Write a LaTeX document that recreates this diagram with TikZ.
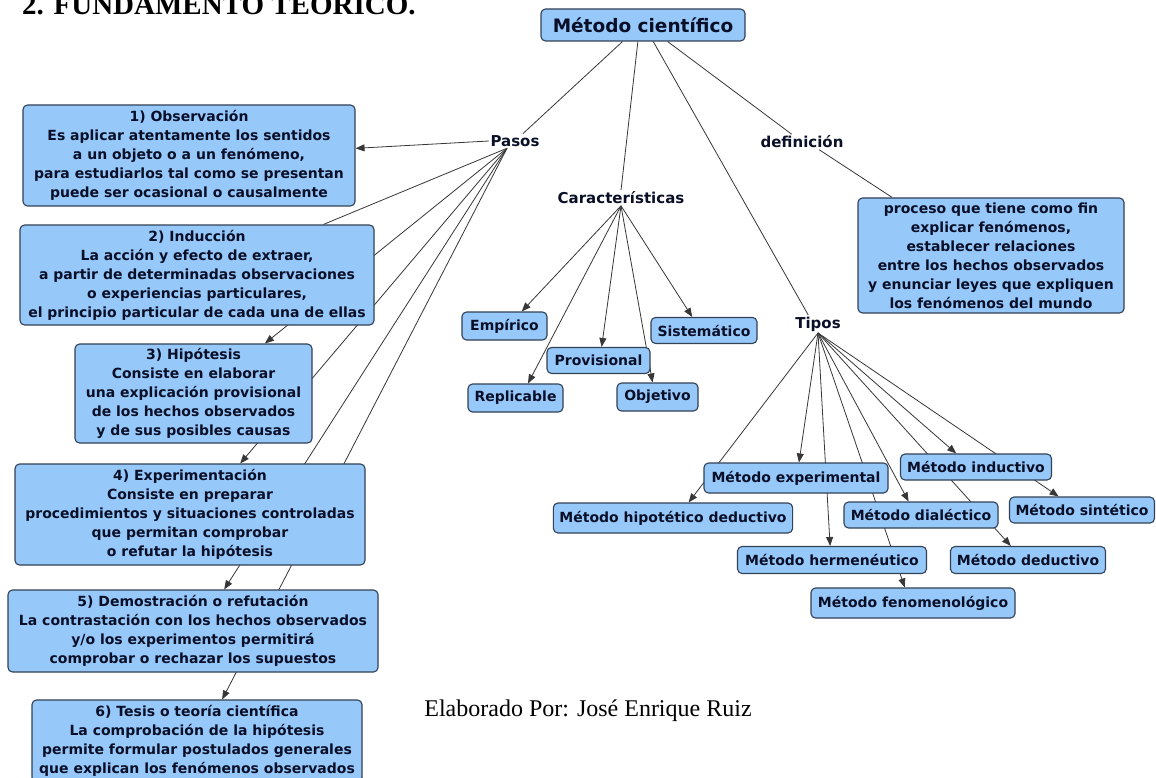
\documentclass[tikz,border=0pt]{standalone}
\usepackage{fontspec}
\setmainfont{DejaVu Sans}
\newfontfamily\serifface{Liberation Serif}
\usetikzlibrary{arrows.meta,calc}
\pgfdeclarelayer{background}
\pgfsetlayers{background,main}
\definecolor{boxfill}{RGB}{150,200,250}
\definecolor{boxline}{RGB}{50,65,85}
\definecolor{inkblue}{RGB}{10,15,40}
\definecolor{linkgray}{RGB}{55,55,55}
\tikzset{
  concept/.style={draw=boxline, fill=boxfill, rounded corners=4.5pt, line width=1.1pt,
    align=center, font=\bfseries\fontsize{14}{19}\selectfont, text=inkblue,
    inner xsep=6pt, inner ysep=3pt},
  linkword/.style={font=\bfseries\fontsize{15}{18}\selectfont, text=inkblue, inner sep=1.5pt},
  link/.style={draw=linkgray, line width=0.8pt},
  arrowlink/.style={link, -{Triangle[length=9pt,width=7pt]}},
}
\begin{document}
\begin{tikzpicture}[x=1pt, y=-1pt]
\clip (0,0) rectangle (1156,778);

% section heading, partly above the page edge
\node[font=\serifface\bfseries\fontsize{29}{34}\selectfont, anchor=base west, inner sep=0] (heading) at (22,15) {2. FUNDAMENTO TEÓRICO.};

% root concept
\node[concept, minimum width=204pt, minimum height=32pt, font=\bfseries\fontsize{18.5}{22}\selectfont] (title) at (643,25) {Método científico};

% linking words
\node[linkword] (pasos) at (515,141) {Pasos};
\node[linkword] (carac) at (621,198) {Características};
\node[linkword] (defn)  at (802,142) {definición};
\node[linkword] (tipos) at (818,324) {Tipos};

% steps of the method
\node[concept, minimum width=332pt, minimum height=101pt] (b1) at (189,155.5)
  {1) Observación\\Es aplicar atentamente los sentidos\\a un objeto o a un fenómeno,\\para estudiarlos tal como se presentan\\puede ser ocasional o causalmente};
\node[concept, minimum width=354pt, minimum height=100pt] (b2) at (197,275)
  {2) Inducción\\La acción y efecto de extraer,\\a partir de determinadas observaciones\\o experiencias particulares,\\el principio particular de cada una de ellas};
\node[concept, minimum width=237pt, minimum height=99pt] (b3) at (193.5,393.5)
  {3) Hipótesis\\Consiste en elaborar\\una explicación provisional\\de los hechos observados\\y de sus posibles causas};
\node[concept, minimum width=350pt, minimum height=101pt] (b4) at (190,514.5)
  {4) Experimentación\\Consiste en preparar\\procedimientos y situaciones controladas\\que permitan comprobar\\o refutar la hipótesis};
\node[concept, minimum width=370pt, minimum height=82pt] (b5) at (193,631)
  {5) Demostración o refutación\\La contrastación con los hechos observados\\y/o los experimentos permitirá\\comprobar o rechazar los supuestos};
\node[concept, minimum width=330pt, minimum height=82pt] (b6) at (197,741)
  {6) Tesis o teoría científica\\La comprobación de la hipótesis\\permite formular postulados generales\\que explican los fenómenos observados};

% definition
\node[concept, minimum width=266pt, minimum height=115pt] (defbox) at (991,255.5)
  {proceso que tiene como fin\\explicar fenómenos,\\establecer relaciones\\entre los hechos observados\\y enunciar leyes que expliquen\\los fenómenos del mundo};

% characteristics
\node[concept, minimum width=85pt, minimum height=28pt] (empirico) at (504.5,326) {Empírico};
\node[concept, minimum width=95pt, minimum height=28pt] (replicable) at (515.5,398) {Replicable};
\node[concept, minimum width=103pt, minimum height=26pt] (provisional) at (598.5,360.5) {Provisional};
\node[concept, minimum width=81pt, minimum height=28pt] (objetivo) at (657.5,397) {Objetivo};
\node[concept, minimum width=106pt, minimum height=26pt] (sistematico) at (704,330.5) {Sistemático};

% kinds of method
\node[concept, minimum width=184pt, minimum height=30pt] (mexp) at (796,478) {Método experimental};
\node[concept, minimum width=239pt, minimum height=30pt] (mhip) at (673,518) {Método hipotético deductivo};
\node[concept, minimum width=189pt, minimum height=27pt] (mher) at (832,560) {Método hermenéutico};
\node[concept, minimum width=204pt, minimum height=30pt] (mfen) at (913,603) {Método fenomenológico};
\node[concept, minimum width=154pt, minimum height=26pt] (mdia) at (921,515) {Método dialéctico};
\node[concept, minimum width=151pt, minimum height=26pt] (mind) at (976,467) {Método inductivo};
\node[concept, minimum width=145pt, minimum height=26pt] (msin) at (1082,510) {Método sintético};
\node[concept, minimum width=155pt, minimum height=27pt] (mded) at (1028,560) {Método deductivo};

% credit line
\node[font=\serifface\fontsize{24}{28}\selectfont, anchor=base, inner sep=0] (credit) at (588,716) {Elaborado Por: José Enrique Ruiz};

\coordinate (pfan) at ($(pasos.south)+(-8,0)$);

\begin{pgfonlayer}{background}
\fill[white] (0,0) rectangle (1156,778);
% root to linking words
\draw[link] ($(title.south west)!0.40!(title.south east)$) -- ($(pasos.north west)!0.65!(pasos.north east)$);
\draw[link] ($(title.south west)!0.475!(title.south east)$) -- (carac.north);
\draw[link] ($(title.south west)!0.55!(title.south east)$) -- ($(tipos.north west)!0.3!(tipos.north east)$);
\draw[link] ($(title.south west)!0.62!(title.south east)$) -- ($(defn.north west)!0.38!(defn.north east)$);
\draw[link] ($(defn.south west)!0.7!(defn.south east)$) -- ($(defbox.north west)!0.13!(defbox.north east)$);
% steps
\draw[arrowlink] (pasos.west) -- ($(b1.north east)!0.43!(b1.south east)$);
\draw[link] (pfan) -- ($(b2.north west)!0.856!(b2.north east)$);
\draw[arrowlink] (pfan) -- ($(b3.north west)!0.80!(b3.north east)$);
\draw[arrowlink] (pfan) -- ($(b4.north west)!0.643!(b4.north east)$);
\draw[arrowlink] (pfan) -- ($(b5.north west)!0.584!(b5.north east)$);
\draw[arrowlink] (pfan) -- ($(b6.north west)!0.576!(b6.north east)$);
% characteristics
\draw[arrowlink] (carac.south) -- ($(empirico.north west)!0.70!(empirico.north east)$);
\draw[arrowlink] (carac.south) -- ($(replicable.north west)!0.63!(replicable.north east)$);
\draw[arrowlink] (carac.south) -- ($(provisional.north west)!0.53!(provisional.north east)$);
\draw[arrowlink] (carac.south) -- ($(objetivo.north west)!0.44!(objetivo.north east)$);
\draw[arrowlink] (carac.south) -- ($(sistematico.north west)!0.39!(sistematico.north east)$);
% kinds
\draw[arrowlink] (tipos.south) -- ($(mexp.north west)!0.516!(mexp.north east)$);
\draw[arrowlink] (tipos.south) -- ($(mhip.north west)!0.565!(mhip.north east)$);
\draw[arrowlink] (tipos.south) -- ($(mher.north west)!0.49!(mher.north east)$);
\draw[arrowlink] (tipos.south) -- ($(mfen.north west)!0.46!(mfen.north east)$);
\draw[arrowlink] (tipos.south) -- ($(mdia.north west)!0.42!(mdia.north east)$);
\draw[arrowlink] (tipos.south) -- ($(mind.north west)!0.37!(mind.north east)$);
\draw[arrowlink] (tipos.south) -- ($(msin.north west)!0.34!(msin.north east)$);
\draw[arrowlink] (tipos.south) -- ($(mded.north west)!0.39!(mded.north east)$);
\end{pgfonlayer}
\end{tikzpicture}
\end{document}
